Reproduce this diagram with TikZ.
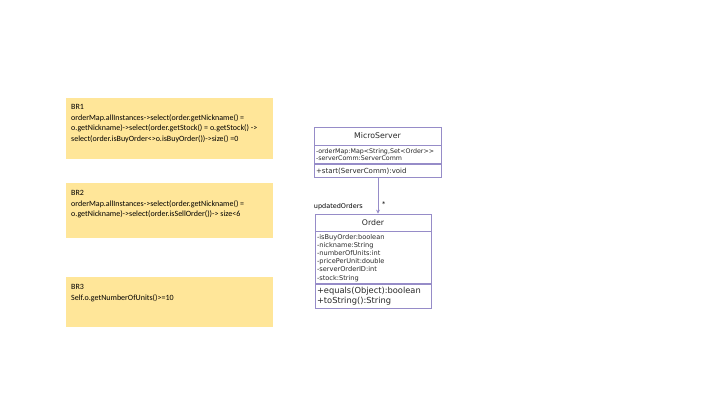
\documentclass[tikz,border=0pt]{standalone}
\usepackage{fontspec}
\setmainfont{Carlito}
\newfontfamily\umlfont{DejaVu Sans}
\usetikzlibrary{positioning,arrows.meta}
\definecolor{noteyellow}{RGB}{255,230,153}
\definecolor{umlline}{RGB}{150,140,200}
\definecolor{umltext}{RGB}{40,40,40}
\tikzset{
	note/.style={fill=noteyellow, anchor=north west, minimum width=207pt, inner sep=0pt},
	notetext/.style={anchor=north west, align=left, inner sep=0pt, font=\fontsize{8}{10.7}\selectfont},
	umlpart/.style={draw=umlline, line width=0.7pt, inner sep=2pt, text=umltext},
	umltitle/.style={umlpart, align=center, font=\umlfont\fontsize{7.8}{9}\selectfont},
	umlattr/.style={umlpart, align=left, font=\umlfont\fontsize{6.3}{7.5}\selectfont},
	umlop/.style={umlpart, align=left, font=\umlfont\fontsize{7}{10}\selectfont},
	assoc/.style={draw=umlline, line width=0.8pt, -{Stealth[length=4pt,width=4pt]}},
	umllabel/.style={inner sep=0pt, text=black, font=\umlfont\fontsize{6.5}{8}\selectfont}
}
\begin{document}
\begin{tikzpicture}[x=1pt, y=-1pt]
	\useasboundingbox[fill=white] (0,0) rectangle (720,405);
	
	% business rules
	\node[note, minimum height=61pt] (br1) at (66,98) {};
	\node[note, minimum height=55pt] (br2) at (66,183) {};
	\node[note, minimum height=50pt] (br3) at (66,277) {};
	
	\node[notetext] (br1 text) at ([xshift=5pt, yshift=-6pt]br1.north west) {BR1\\
		orderMap.allInstances->select(order.getNickname() =\\
		o.getNickname)->select(order.getStock() = o.getStock() ->\\
		select(order.isBuyOrder<>o.isBuyOrder())->size() =0};
	\node[notetext] (br2 text) at ([xshift=5pt, yshift=-7pt]br2.north west) {BR2\\
		orderMap.allInstances->select(order.getNickname() =\\
		o.getNickname)->select(order.isSellOrder())-> size<6};
	\node[notetext] (br3 text) at ([xshift=5pt, yshift=-7pt]br3.north west) {BR3\\
		Self.o.getNumberOfUnits()>=10};
	
	% class MicroServer
	\node[umltitle, minimum width=127pt, minimum height=18pt] (ms title) at (377.5,136) {MicroServer};
	\node[umlattr, below=0pt of ms title, text width=123pt, minimum height=18pt] (ms attr) {-orderMap:Map<String,Set<Order>{}>\\
		-serverComm:ServerComm};
	\node[umlop, below=0pt of ms attr, text width=123pt, minimum height=13pt] (ms op) {+start(ServerComm):void};
	
	% class Order
	\node[umltitle, minimum width=116pt, minimum height=17pt] (ord title) at (373,222.5) {Order};
	\node[umlattr, below=0pt of ord title, text width=112pt, minimum height=52pt, font=\umlfont\fontsize{6.6}{8.2}\selectfont] (ord attr) {-isBuyOrder:boolean\\
		-nickname:String\\
		-numberOfUnits:int\\
		-pricePerUnit:double\\
		-serverOrderID:int\\
		-stock:String};
	\node[umlop, below=0pt of ord attr, text width=112pt, minimum height=24pt, font=\umlfont\fontsize{8.3}{10}\selectfont] (ord op) {+equals(Object):boolean\\
		+toString():String};
	
	% association
	\coordinate (ms end) at ([xshift=0.5pt]ms op.south);
	\draw[assoc] (ms end) -- (ms end |- ord title.north);
	\node[umllabel, anchor=east] (role) at (363,207) {updatedOrders};
	\node[umllabel, anchor=west] (mult) at (382,204) {*};
\end{tikzpicture}
\end{document}
